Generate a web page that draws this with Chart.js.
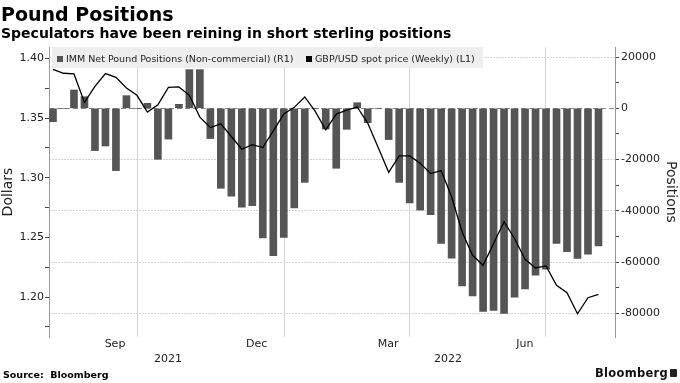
<!DOCTYPE html>
<html><head><meta charset="utf-8">
<script src="https://cdn.jsdelivr.net/npm/chart.js@4.4.1/dist/chart.umd.min.js"></script>
<style>
html,body{margin:0;padding:0;background:#fff;}
#wrap{position:relative;width:680px;height:383px;overflow:hidden;background:#fff;font-family:"DejaVu Sans",sans-serif;}
#c{position:absolute;left:0;top:0;}
.t{position:absolute;white-space:pre;line-height:1;color:#000;}
</style></head><body>
<div id="wrap">
<canvas id="c" width="680" height="383"></canvas>
<div class="t" style="left:1px;top:4.6px;font-size:19px;font-weight:bold">Pound Positions</div>
<div class="t" style="left:1px;top:25.5px;font-size:14px;font-weight:bold">Speculators have been reining in short sterling positions</div>
<div style="position:absolute;left:52px;top:47px;width:431px;height:21px;background:#eeeeee"></div>
<div style="position:absolute;left:57px;top:56px;width:6px;height:6px;background:#555"></div>
<div class="t" style="left:66px;top:54px;font-size:9.5px;color:#222">IMM Net Pound Positions (Non-commercial) (R1)</div>
<div style="position:absolute;left:306px;top:56px;width:6px;height:6px;background:#000"></div>
<div class="t" style="left:315px;top:54px;font-size:9.5px;color:#222">GBP/USD spot price (Weekly) (L1)</div>
<div class="t" style="left:3px;top:369.5px;font-size:9.5px;font-weight:bold">Source:  Bloomberg</div>
<div class="t" style="left:595px;top:367.6px;font-size:11.5px;font-weight:bold;letter-spacing:0.3px;color:#111">Bloomberg</div>
<div style="position:absolute;left:670px;top:369px;width:7px;height:8px;background:#222;border-radius:1px"></div>
</div>
<script>
const weeks = ["2021-08-03","2021-08-10","2021-08-17","2021-08-24","2021-08-31","2021-09-07","2021-09-14","2021-09-21","2021-09-28","2021-10-05",
"2021-10-12","2021-10-19","2021-10-26","2021-11-02","2021-11-09","2021-11-16","2021-11-23","2021-11-30","2021-12-07","2021-12-14",
"2021-12-21","2021-12-28","2022-01-04","2022-01-11","2022-01-18","2022-01-25","2022-02-01","2022-02-08","2022-02-15","2022-02-22",
"2022-03-01","2022-03-08","2022-03-15","2022-03-22","2022-03-29","2022-04-05","2022-04-12","2022-04-19","2022-04-26","2022-05-03",
"2022-05-10","2022-05-17","2022-05-24","2022-05-31","2022-06-07","2022-06-14","2022-06-21","2022-06-28","2022-07-05","2022-07-12",
"2022-07-19","2022-07-26","2022-08-02"];
const positions = [-5200,0,7150,4550,-16500,-14700,-24300,4950,0,1950,
-19900,-12000,1560,15100,15100,-11800,-31200,-34300,-38600,-38000,
-50600,-57500,-50400,-38900,-28900,0,-8100,-23400,-8200,2200,
-5600,0,-12200,-28900,-36900,-39700,-41500,-52700,-58500,-69300,
-73200,-79300,-78900,-80000,-73700,-70500,-65100,-62800,-52700,-55900,
-58600,-56900,-53700];
const spot = [1.3909,1.3876,1.3870,1.3632,1.3766,1.3873,1.3842,1.3752,1.3691,1.3550,
1.3612,1.3758,1.3761,1.3691,1.3508,1.3421,1.3452,1.3346,1.3239,1.3278,
1.3253,1.3393,1.3534,1.3590,1.3677,1.3556,1.3402,1.3534,1.3567,1.3593,
1.3458,1.3253,1.3046,1.3183,1.3183,1.3121,1.3035,1.3060,1.2841,1.2545,
1.2350,1.2266,1.2449,1.2631,1.2491,1.2317,1.2244,1.2261,1.2098,1.2036,
1.1860,1.1994,1.2022];
const monthTicks = [5.91, 19.42, 31.94, 44.99];
const monthLabels = ["Sep","Dec","Mar","Jun"];
const yearTicks = [10.96, 37.65];
const yearLabels = ["2021","2022"];
const quarterLines = [8.07, 22.05, 33.97, 46.99];
const priceTicks = [1.175,1.2,1.225,1.25,1.275,1.3,1.325,1.35,1.375,1.4];
const priceLabels = ["","1.20","","1.25","","1.30","","1.35","","1.40"];
const posTicks = [-80000,-70000,-60000,-50000,-40000,-30000,-20000,-10000,0,10000,20000];
const posLabels = ["-80000","","-60000","","-40000","","-20000","","0","","20000"];

const X_MIN = -0.381, X_MAX = 53.575;
const FONT = {family:"DejaVu Sans", size:11};
const TICKCOL = "#222";

new Chart(document.getElementById("c"), {
  type: "bar",
  data: {
    datasets: [
      {type:"line", label:"GBP/USD spot price (Weekly) (L1)", data: spot.map((v,i)=>({x:i,y:v})),
       xAxisID:"x", yAxisID:"y", borderColor:"#000", borderWidth:1.3, pointRadius:0, tension:0, order:0},
      {type:"bar", label:"IMM Net Pound Positions (Non-commercial) (R1)", data: positions.map((v,i)=>({x:i,y:v})),
       xAxisID:"x", yAxisID:"y2", backgroundColor:"#555555", barThickness:7, borderWidth:0, order:1}
    ]
  },
  options: {
    responsive:false, animation:false, devicePixelRatio:1,
    layout:{padding:{top:47,left:0,right:0,bottom:16}},
    plugins:{legend:{display:false}, title:{display:false}, tooltip:{enabled:false}},
    scales:{
      x:{type:"linear", position:"bottom", min:X_MIN, max:X_MAX, weight:0, offset:false,
        afterBuildTicks:s=>{s.ticks = quarterLines.map(v=>({value:v}));},
        afterFit:s=>{s.height = 0;},
        ticks:{display:false},
        grid:{color:"#d4d4d4", lineWidth:1, drawTicks:false, offset:false},
        border:{display:false}},
      xm:{type:"linear", position:"bottom", min:X_MIN, max:X_MAX, weight:1, offset:false,
        afterBuildTicks:s=>{s.ticks = monthTicks.map(v=>({value:v}));},
        afterFit:s=>{s.height = 14;},
        ticks:{autoSkip:false, maxRotation:0, padding:1, color:TICKCOL, font:FONT, callback:(v,i)=>monthLabels[i]},
        grid:{display:false, drawTicks:false, offset:false}, border:{display:false}},
      xy:{type:"linear", position:"bottom", min:X_MIN, max:X_MAX, weight:2, offset:false,
        afterBuildTicks:s=>{s.ticks = yearTicks.map(v=>({value:v}));},
        afterFit:s=>{s.height = 16;},
        ticks:{autoSkip:false, maxRotation:0, padding:2, color:TICKCOL, font:FONT, callback:(v,i)=>yearLabels[i]},
        grid:{display:false, drawTicks:false, offset:false}, border:{display:false}},
      y:{type:"linear", position:"left", min:1.1665, max:1.4096,
        afterBuildTicks:s=>{s.ticks = priceTicks.map(v=>({value:v}));},
        afterFit:s=>{s.width = 49;},
        ticks:{autoSkip:false, padding:1, color:TICKCOL, font:FONT, callback:(v,i)=>priceLabels[i]},
        grid:{display:true, drawOnChartArea:false, drawTicks:true, tickLength:4, tickColor:"#444"},
        border:{display:true, color:"#999", width:1},
        title:{display:true, text:"Dollars", color:"#222", font:{family:"DejaVu Sans", size:14}, padding:0}},
      y2:{type:"linear", position:"right", min:-89237, max:23934,
        afterBuildTicks:s=>{s.ticks = posTicks.map(v=>({value:v}));},
        afterFit:s=>{s.width = 65;},
        ticks:{autoSkip:false, padding:2, color:TICKCOL, font:FONT, callback:(v,i)=>posLabels[i]},
        grid:{display:true, drawOnChartArea:true, drawTicks:true, tickLength:4, tickColor:"#444",
          color:c=> (c.tick && c.tick.value % 20000 === 0) ? (c.tick.value === 0 ? "#8c8c8c" : "#d2d2d2") : "rgba(0,0,0,0)"},
        border:{display:true, color:"#999", width:1,
          dash:c=> (c.tick && c.tick.value === 0) ? [5,3] : [2,1]},
        title:{display:true, text:"Positions", color:"#222", font:{family:"DejaVu Sans", size:14}, padding:1}}
    }
  }
});
</script>
</body></html>
